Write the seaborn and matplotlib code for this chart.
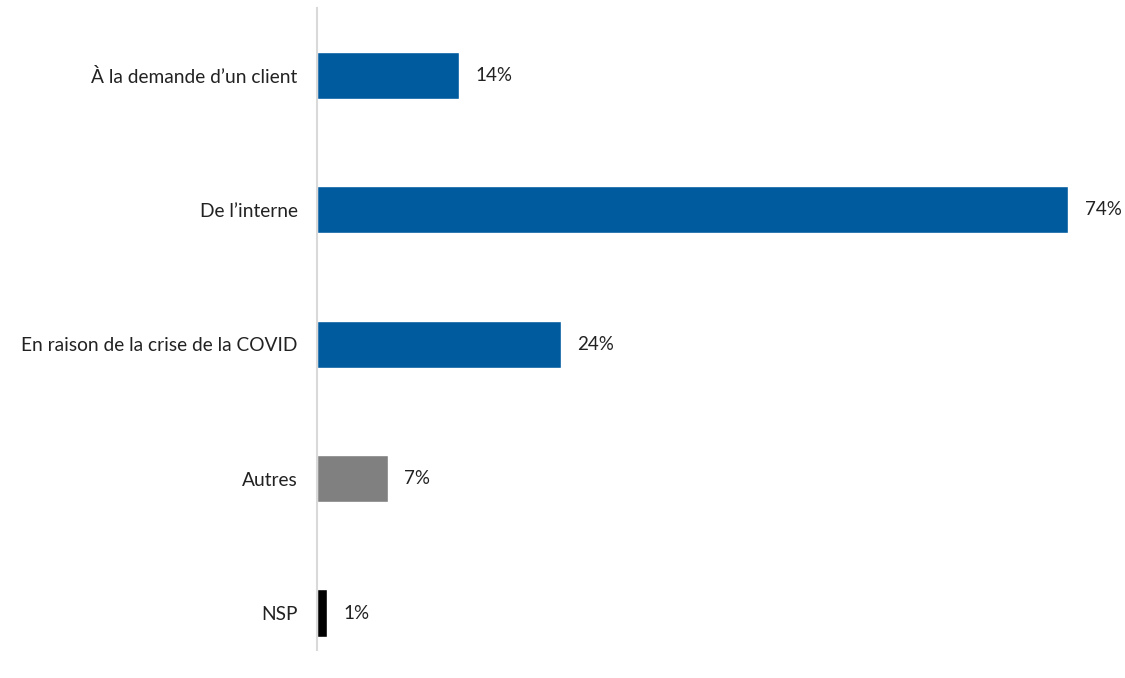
import matplotlib
matplotlib.use("Agg")
import matplotlib.pyplot as plt
import seaborn as sns
import pandas as pd

categories = ["À la demande d’un client", "De l’interne", "En raison de la crise de la COVID", "Autres", "NSP"]
values = [14, 74, 24, 7, 1]
colors = ["#005A9E", "#005A9E", "#005A9E", "#808080", "#000000"]

sns.set_style("white")
plt.rcParams['font.family'] = ['Lato', 'DejaVu Sans']

df = pd.DataFrame({"cat": categories, "val": values})

fig = plt.figure(figsize=(11.25, 6.78), dpi=100)
ax = fig.add_axes([317 / 1125, 28 / 678, 792 / 1125, 642 / 678])

sns.barplot(data=df, x="val", y="cat", hue="cat", palette=colors, legend=False,
            width=0.35, saturation=1, ax=ax, orient="h")

for i, v in enumerate(values):
    ax.text(v + 1.6, i, f"{v}%", va="center", ha="left", fontsize=13.5, color="#222222")

ax.set_xlim(0, 78)
ax.set_ylim(4.275, -0.5)
ax.set_xlabel("")
ax.set_ylabel("")
ax.set_xticks([])
ax.tick_params(axis="y", length=0, pad=14, labelsize=13.8, labelcolor="#222222")
for s in ["top", "right", "bottom"]:
    ax.spines[s].set_visible(False)
ax.spines["left"].set_color("#D9D9D9")
ax.spines["left"].set_linewidth(1.5)

fig.savefig("out.png", dpi=100)
